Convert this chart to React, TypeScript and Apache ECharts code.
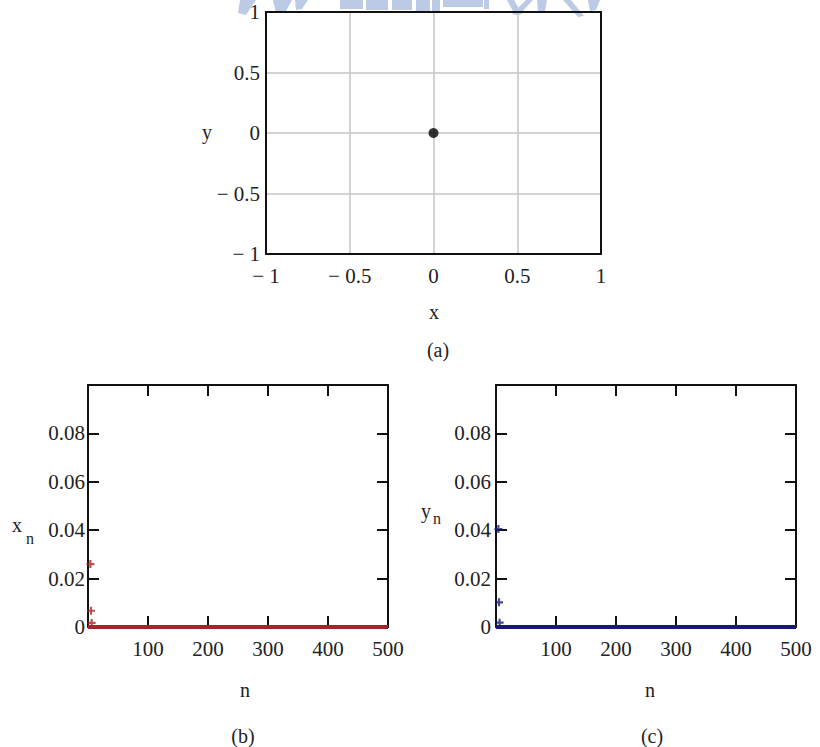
import React, { useEffect, useRef } from "react";
import * as echarts from "echarts";

// ---- data ----
// (a) phase plane: single fixed point
const phasePoint: [number, number][] = [[0, 0]];
const phaseTicks = { min: -1, max: 1, step: 0.5 };

// (b) x_n : early transient points then zero
const xnEarlyN = [4, 5, 6];
const xnEarlyV = [0.026, 0.0067, 0.0017];
const xnTailN = [0, 500];
const xnTailV = [0, 0];

// (c) y_n : early transient points then zero
const ynEarlyN = [4, 5, 6];
const ynEarlyV = [0.0405, 0.0102, 0.0018];
const ynTailN = [0, 500];
const ynTailV = [0, 0];

const nAxis = { min: 0, max: 500, step: 100 };
const vAxis = { min: 0, max: 0.1, step: 0.02 };

const FONT = "'Liberation Serif', 'DejaVu Serif', serif";
const RED = "#a8222a";
const BLUE = "#17187e";
const WM = "#bccae6";

const plusPath = "path://M2.2,0H3.8V2.2H6V3.8H3.8V6H2.2V3.8H0V2.2H2.2Z";

const fmtSigned = (v: number) => {
  const r = Math.round(v * 100) / 100;
  if (r < 0) return "\u2212 " + String(-r);
  return String(r);
};
const fmtV = (v: number) => (v > 0.099 ? "" : String(Math.round(v * 100) / 100));
const fmtN = (v: number) => (v === 0 ? "" : String(v));

const zip = (a: number[], b: number[]) => a.map((x, i) => [x, b[i]]);

function bottomAxes(grid: number, labelMarginY: number) {
  const tick = { show: true, inside: true, length: 11, lineStyle: { color: "#111", width: 2 } };
  const line = { show: true, lineStyle: { color: "#111", width: 2 } };
  const lbl = { fontFamily: FONT, fontSize: 21, color: "#222" };
  return {
    x: [
      {
        gridIndex: grid, type: "value", min: nAxis.min, max: nAxis.max, interval: nAxis.step,
        axisLine: { ...line, onZero: false }, axisTick: tick, splitLine: { show: false },
        axisLabel: { ...lbl, margin: 11, formatter: fmtN },
      },
      {
        gridIndex: grid, type: "value", position: "top", min: nAxis.min, max: nAxis.max, interval: nAxis.step,
        axisLine: { ...line, onZero: false }, axisTick: tick, splitLine: { show: false },
        axisLabel: { show: false },
      },
    ],
    y: [
      {
        gridIndex: grid, type: "value", min: vAxis.min, max: vAxis.max, interval: vAxis.step,
        axisLine: { ...line, onZero: false }, axisTick: tick, splitLine: { show: false },
        axisLabel: { ...lbl, margin: labelMarginY, formatter: fmtV },
      },
      {
        gridIndex: grid, type: "value", position: "right", min: vAxis.min, max: vAxis.max, interval: vAxis.step,
        axisLine: { ...line, onZero: false }, axisTick: tick, splitLine: { show: false },
        axisLabel: { show: false },
      },
    ],
  };
}

export default function App() {
  const ref = useRef<HTMLDivElement>(null);
  useEffect(() => {
    if (!ref.current) return;
    const chart = echarts.init(ref.current, undefined, { renderer: "svg" });
    const b = bottomAxes(1, 3);
    const c = bottomAxes(2, 5);
    const border = { show: true, lineStyle: { color: "#111", width: 2 } };
    const split = { show: true, showMinLine: false, showMaxLine: false, lineStyle: { color: "#c6c6c6", width: 1.5 } };
    const lblA = { fontFamily: FONT, fontSize: 21, color: "#222", formatter: fmtSigned };

    const txt = (text: string, x: number, y: number, size = 20, align = "center") => ({
      type: "text", x, y, z: 10,
      style: { text, fill: "#222", font: `${size}px ${FONT}`, textAlign: align, textVerticalAlign: "middle" },
    });
    const poly = (points: number[][]) => ({ type: "polygon", shape: { points }, style: { fill: WM }, z: 0, silent: true });

    chart.setOption({
      animation: false,
      backgroundColor: "#ffffff",
      grid: [
        { left: 266, top: 12, width: 335, height: 242 },
        { left: 88, top: 385, width: 300, height: 242 },
        { left: 496, top: 385, width: 300, height: 242 },
      ],
      xAxis: [
        {
          gridIndex: 0, type: "value", min: phaseTicks.min, max: phaseTicks.max, interval: phaseTicks.step,
          axisLine: { ...border, onZero: false }, axisTick: { show: false }, splitLine: split,
          axisLabel: { ...lblA, margin: 11 },
        },
        {
          gridIndex: 0, type: "value", position: "top", min: phaseTicks.min, max: phaseTicks.max, interval: phaseTicks.step,
          axisLine: { ...border, onZero: false }, axisTick: { show: false }, splitLine: { show: false },
          axisLabel: { show: false },
        },
        ...b.x,
        ...c.x,
      ],
      yAxis: [
        {
          gridIndex: 0, type: "value", min: phaseTicks.min, max: phaseTicks.max, interval: phaseTicks.step,
          axisLine: { ...border, onZero: false }, axisTick: { show: false }, splitLine: split,
          axisLabel: { ...lblA, margin: 6 },
        },
        {
          gridIndex: 0, type: "value", position: "right", min: phaseTicks.min, max: phaseTicks.max, interval: phaseTicks.step,
          axisLine: { ...border, onZero: false }, axisTick: { show: false }, splitLine: { show: false },
          axisLabel: { show: false },
        },
        ...b.y,
        ...c.y,
      ],
      series: [
        {
          type: "scatter", xAxisIndex: 0, yAxisIndex: 0, data: phasePoint,
          symbol: "circle", symbolSize: 10, itemStyle: { color: "#000" }, z: 5,
        },
        {
          type: "line", xAxisIndex: 2, yAxisIndex: 2, data: zip(xnTailN, xnTailV),
          showSymbol: false, clip: false, lineStyle: { color: RED, width: 4 }, z: 4,
        },
        {
          type: "scatter", xAxisIndex: 2, yAxisIndex: 2, data: zip(xnEarlyN, xnEarlyV),
          symbol: plusPath, symbolSize: 8, clip: false, itemStyle: { color: RED }, z: 5,
        },
        {
          type: "line", xAxisIndex: 4, yAxisIndex: 4, data: zip(ynTailN, ynTailV),
          showSymbol: false, clip: false, lineStyle: { color: BLUE, width: 4 }, z: 4,
        },
        {
          type: "scatter", xAxisIndex: 4, yAxisIndex: 4, data: zip(ynEarlyN, ynEarlyV),
          symbol: plusPath, symbolSize: 8, clip: false, itemStyle: { color: BLUE }, z: 5,
        },
      ],
      graphic: [
        // faint watermark fragments at top edge
        poly([[240, 0], [256, 0], [246, 15], [238, 13]]),
        poly([[273, 0], [292, 0], [286, 11], [276, 13]]),
        poly([[295, 0], [308, 0], [302, 9], [296, 10]]),
        poly([[340, 0], [363, 0], [363, 9], [340, 9]]),
        poly([[366, 0], [388, 0], [388, 10], [366, 10]]),
        poly([[392, 0], [412, 0], [412, 10], [392, 10]]),
        poly([[416, 0], [430, 0], [430, 11], [416, 11]]),
        poly([[432, 0], [440, 0], [440, 12], [432, 12]]),
        poly([[443, 0], [483, 0], [483, 7], [443, 7]]),
        poly([[484, 0], [489, 0], [489, 9], [484, 9]]),
        poly([[507, 0], [514, 0], [522, 14], [515, 15]]),
        poly([[526, 0], [533, 0], [519, 15], [512, 14]]),
        poly([[537, 0], [547, 0], [545, 11], [538, 11]]),
        poly([[563, 0], [571, 0], [584, 16], [578, 17]]),
        poly([[588, 0], [600, 0], [596, 10], [590, 11]]),
        // axis titles and captions
        txt("y", 207, 132),
        txt("x", 434, 312),
        txt("(a)", 438, 350),
        txt("x", 17, 525),
        txt("n", 30, 538, 16),
        txt("n", 245, 690),
        txt("(b)", 243, 736),
        txt("y", 426, 511),
        txt("n", 437, 518, 16),
        txt("n", 650, 690),
        txt("(c)", 652, 736),
      ],
    });
    return () => chart.dispose();
  }, []);
  return (
    <div
      ref={ref}
      style={{ position: "absolute", left: 0, top: 0, width: 820, height: 747, background: "#fff" }}
    />
  );
}
